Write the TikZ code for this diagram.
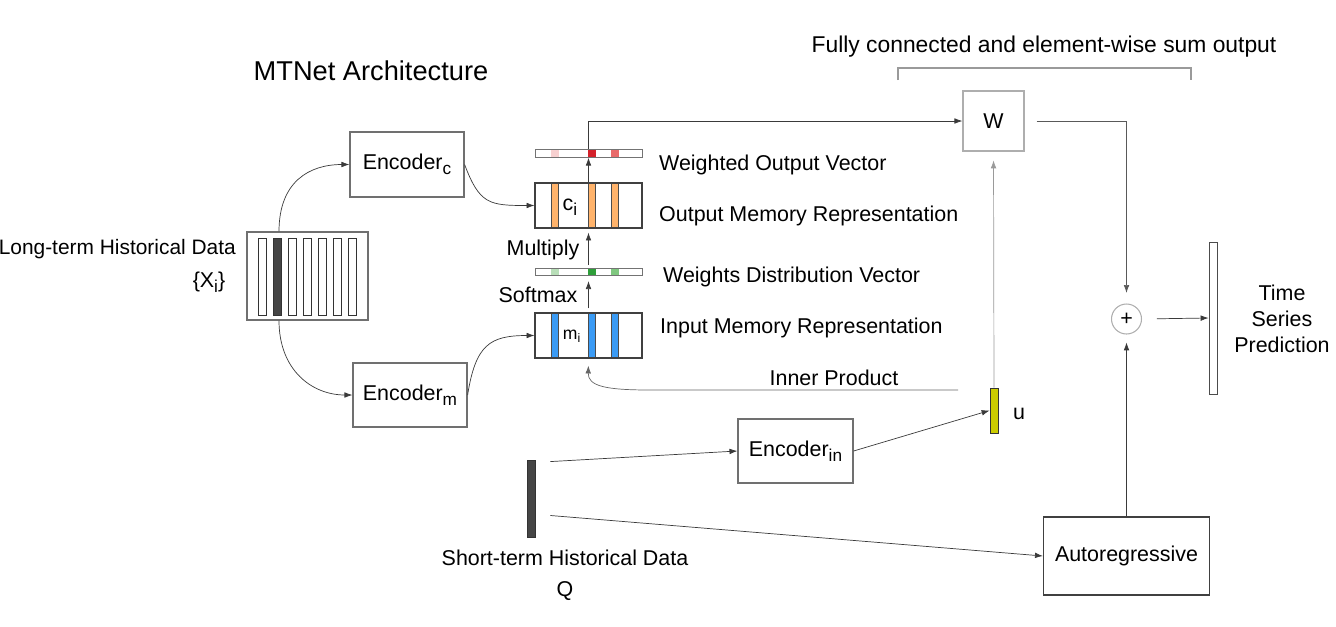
\documentclass[tikz,border=0pt]{standalone}
\usepackage{fontspec}
\setmainfont{Liberation Sans}
\usepackage{tikz}
\usetikzlibrary{
    arrows.meta,
    calc,
    positioning
}
\definecolor{linedark}{HTML}{3A3A3A}
\definecolor{linegray}{HTML}{9A9A9A}
\definecolor{boxgray}{HTML}{707070}
\definecolor{orangec}{HTML}{FFB36B}
\definecolor{bluec}{HTML}{3A9BF5}
\definecolor{yellowc}{HTML}{CCCC00}
\definecolor{darkbar}{HTML}{454545}
\definecolor{redA}{HTML}{F7D0D0}
\definecolor{redB}{HTML}{E86A6A}
\definecolor{redC}{HTML}{D3212A}
\definecolor{greenA}{HTML}{B8DEB8}
\definecolor{greenB}{HTML}{7FC77F}
\definecolor{greenC}{HTML}{2E9E3A}
\newcommand{\subtxt}[1]{\raisebox{-0.45ex}{\fontsize{9.8}{11}\selectfont #1}}

\begin{document}
\begin{tikzpicture}[x=0.02cm, y=-0.02cm,
        font=\fontsize{12.2}{14.7}\selectfont,
        >={Latex[length=4.5pt,width=3.2pt]},
        enc/.style={draw=boxgray, line width=0.7pt, minimum width=2.28cm, minimum height=1.3cm, inner sep=0pt},
        membox/.style={draw=black!75, line width=0.6pt, minimum width=2.14cm, minimum height=0.9cm, inner sep=0pt},
        vecbox/.style={draw=black!55, line width=0.5pt, minimum width=2.14cm, minimum height=0.15cm, inner sep=0pt},
        bar/.style={draw=black!80, line width=0.5pt, minimum width=0.16cm, inner sep=0pt},
        conn/.style={draw=linedark, ->},
        soft/.style={draw=linegray, ->}
    ]
    \useasboundingbox (0,0) rectangle (1336,626);

    % titles
    \node[font=\fontsize{15.5}{18}\selectfont] (title) at (371,71) {MTNet Architecture};
    \node[font=\fontsize{13}{15}\selectfont] (fctext) at (1044,47) {Fully connected and element-wise sum output};
    \draw[linegray, line width=0.8pt] (898,80) -- (898,68) -- (1191,68) -- (1191,80);

    % long-term data
    \node[draw=boxgray, line width=0.6pt, minimum width=2.42cm, minimum height=1.76cm] (longbox) at (307.5,276) {};
    \foreach \i in {0,...,6} {
        \draw[black!80, line width=0.5pt] ({258+15.15*\i},238) rectangle ++(8,77);
    }
    \fill[darkbar, draw=black!80] (273.15,238) rectangle ++(8,77);
    \node[anchor=east, font=\fontsize{11.9}{14}\selectfont] (longtext) at (242,249) {Long-term Historical Data};
    \node (xi) at (209,282) {\{X\subtxt{i}\}};

    % encoders
    \node[enc] (encc) at (407,164.5) {Encoder\subtxt{c}};
    \node[enc, minimum height=1.28cm] (encm) at (410,395) {Encoder\subtxt{m}};
    \node[enc, minimum width=2.3cm, minimum height=1.28cm] (encin) at (795.5,451) {Encoder\subtxt{in}};

    % memory blocks and vectors
    \foreach \bx/\rc/\gc in {551/redA/greenA, 588/redC/greenC, 611/redB/greenB} {
        \fill[\rc] (\bx,150) rectangle ++(7.5,7);
        \fill[\gc] (\bx,268.5) rectangle ++(7.5,7);
        \fill[orangec, draw=black!70, line width=0.5pt] (\bx,183) rectangle ++(7.5,45);
        \fill[bluec, draw=black!70, line width=0.5pt] (\bx,313) rectangle ++(7.5,45);
    }
    \node[vecbox] (wov) at (588.5,153.5) {};
    \node[membox] (cmem) at (588.5,205.5) {};
    \node[vecbox] (wdv) at (588.5,272) {};
    \node[membox] (mmem) at (588.5,335.5) {};
    \node (ci) at (570,207) {c\subtxt{i}};
    \node[font=\fontsize{10}{12}\selectfont] (mi) at (572,336) {m\textsubscript{i}};

    \node[anchor=west] (wovtext) at (653,165) {Weighted Output Vector};
    \node[anchor=west] (cmemtext) at (653,216) {Output Memory Representation};
    \node[anchor=west] (wdvtext) at (657,277) {Weights Distribution Vector};
    \node[anchor=west] (mmemtext) at (654,328) {Input Memory Representation};
    \node (multiply) at (543,250) {Multiply};
    \node (softmax) at (538,295) {Softmax};

    % short-term data
    \node[bar, fill=darkbar, minimum height=1.54cm] (Q) at (531,498.5) {};
    \node[align=center] (qtext) at (565,575) {Short-term Historical Data\\[3pt]Q};
    \node[bar, fill=yellowc, minimum height=0.9cm] (u) at (994,410.5) {};
    \node (utext) at (1019,414) {u};

    % output side
    \node[draw=linegray!80, line width=0.7pt, minimum width=1.22cm, minimum height=1.2cm] (W) at (993.5,121) {W};
    \node[circle, draw=linegray!80, line width=0.6pt, minimum size=0.6cm, inner sep=0pt] (plus) at (1126.5,319) {+};
    \node[bar, fill=white, draw=black!70, minimum height=3.04cm] (pred) at (1213,318) {};
    \node[align=center] (predtext) at (1282,319) {Time\\Series\\Prediction};
    \node[enc, draw=black!75, minimum width=3.32cm, minimum height=1.56cm] (auto) at (1126.5,556) {Autoregressive};

    % connectors
    \draw[conn] ([xshift=-0.57cm]longbox.north) .. controls +(0,-50) and +(-40,0) .. (encc.west);
    \draw[conn] ([xshift=-0.57cm]longbox.south) .. controls +(0,50) and +(-40,0) .. (encm.west);
    \draw[conn] (encc.east) .. controls +(15,40) and +(-45,0) .. (cmem.west);
    \draw[conn] (encm.east) .. controls +(8,-50) and +(-45,0) .. (mmem.west);
    \draw[conn] (cmem.north) -- (wov.south);
    \draw[conn] (wov.north) |- (W.west);
    \draw[conn, shorten <=1.5pt, shorten >=2.3pt] (wdv.north) -- (cmem.south);
    \draw[conn, shorten <=2.3pt, shorten >=2.8pt] (mmem.north) -- (wdv.south);
    \coordinate (ipstart) at (958,390);
    \draw[conn, draw=black!60, shorten >=4pt] (ipstart) -- (650,390) .. controls (605,390) and (588,386) .. (mmem.south);
    \node (iptext) at (834,378) {Inner Product};
    \draw[conn] ($(Q.north east)+(15,2)$) -- (encin.west);
    \draw[conn] ($(Q.east)+(15,17)$) -- (auto.west);
    \draw[conn] (encin.east) -- (u.west);
    \draw[soft, shorten >=5pt] (u.north) -- (W.south);
    \draw[conn, draw=black!65, shorten <=6.8pt, shorten >=6pt] (W.east) -| (plus.north);
    \draw[conn, shorten >=4.5pt] (auto.north) -- (plus.south);
    \draw[conn, shorten <=8.5pt] (plus.east) -- (pred.west);
\end{tikzpicture}
\end{document}
